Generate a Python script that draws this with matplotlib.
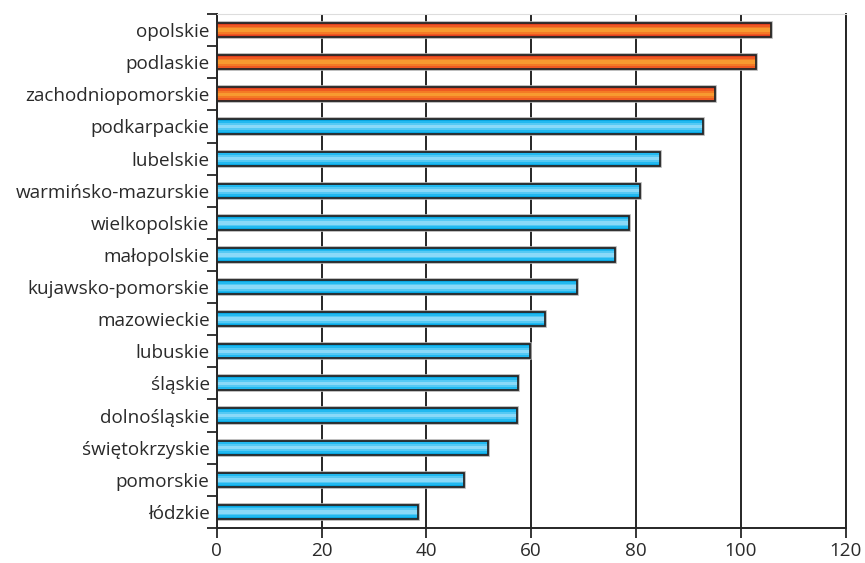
import matplotlib.pyplot as plt
import numpy as np

# regions, bottom to top
regions = ['łódzkie', 'pomorskie', 'świętokrzyskie', 'dolnośląskie', 'śląskie',
           'lubuskie', 'mazowieckie', 'kujawsko-pomorskie', 'małopolskie',
           'wielkopolskie', 'warmińsko-mazurskie', 'lubelskie', 'podkarpackie',
           'zachodniopomorskie', 'podlaskie', 'opolskie']
values = [38.5, 47.2, 51.8, 57.3, 57.4, 59.8, 62.7, 68.8, 75.9, 78.6, 80.8,
          84.5, 92.7, 95.0, 102.9, 105.7]
highlight = [False] * 13 + [True] * 3
xticks = [0, 20, 40, 60, 80, 100, 120]

plt.rcParams['font.family'] = ['Open Sans', 'DejaVu Sans']

fig = plt.figure(figsize=(8.65, 5.63), dpi=100)
ax = fig.add_axes([0.2505, 0.0622, 0.7272, 0.9129])

y = np.arange(len(regions))
h = 0.44
blue = ['#0aa6e0', '#22b9f0', '#55c9f4', '#8ad9f8']
orange = ['#e0401e', '#ee5a22', '#f47a25', '#f79a30']

for yi, v, hl in zip(y, values, highlight):
    cols = orange if hl else blue
    # soft shadow
    ax.barh(yi, v, height=h, color='none', edgecolor='#b0b0b0', linewidth=2.6, zorder=2)
    # layered fill to fake a gradient
    for k, c in enumerate(cols):
        ax.barh(yi, v, height=h * (1 - k * 0.25), color=c, linewidth=0, zorder=3 + k)
    ax.barh(yi, v, height=h, color='none', edgecolor='#262626', linewidth=1.3, zorder=8)

ax.set_xlim(0, 120)
ax.set_ylim(-0.5, len(regions) - 0.5)
ax.set_xticks(xticks)
ax.set_yticks(y)
ax.set_yticklabels(regions)
ax.set_yticks(np.arange(len(regions) + 1) - 0.5, minor=True)

ax.tick_params(axis='y', which='major', length=0, pad=5, labelsize=13.6, labelcolor='#2a2a2a')
ax.tick_params(axis='y', which='minor', length=7.5, width=1.3, color='#262626')
ax.tick_params(axis='x', length=7, width=1.3, color='#262626', pad=3, labelsize=13.6,
               labelcolor='#2a2a2a')

ax.grid(axis='x', color='#262626', linewidth=1.4, zorder=1)
ax.set_axisbelow(True)

for s in ['left', 'bottom']:
    ax.spines[s].set_color('#262626')
    ax.spines[s].set_linewidth(1.4)
ax.spines['top'].set_color('#dddddd')
ax.spines['right'].set_color('#262626')
ax.spines['right'].set_linewidth(1.4)

plt.savefig('out.png', dpi=100)
